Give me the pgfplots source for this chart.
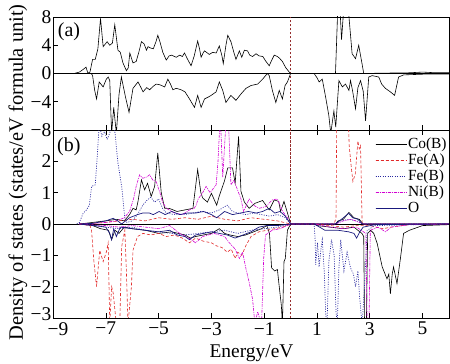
\documentclass[border=0pt]{standalone}
\usepackage{fontspec}
\setmainfont{Liberation Serif}
\usepackage{pgfplots}
\pgfplotsset{compat=1.18}
\definecolor{feA}{RGB}{225,40,40}
\definecolor{feB}{RGB}{40,40,160}
\definecolor{niB}{RGB}{210,0,210}
\definecolor{oxy}{RGB}{25,25,125}
\definecolor{fermi}{RGB}{150,45,45}
\pgfplotsset{
  common/.style={scale only axis, width=396bp, xmin=-9, xmax=6,
    anchor=south west,
    axis line style={line width=0.8pt},
    tick style={black, line width=0.6pt},
    major tick length=5bp,
    xtick={-9,-7,...,5},
    ytick pos=left,
    ticklabel style={font=\fontsize{19.5}{20}\selectfont},
    xticklabel style={inner sep=1pt, yshift=-3pt},
    yticklabel style={inner sep=1.5pt},
  },
  cob/.style={black, line width=0.6pt},
  fea/.style={feA, line width=0.6pt, dash pattern=on 3pt off 2pt},
  feb/.style={feB, line width=0.7pt, dash pattern=on 1pt off 1.4pt},
  nib/.style={niB, line width=0.6pt, dash pattern=on 3pt off 1pt on 1pt off 1pt},
  oxs/.style={oxy, line width=0.7pt},
}
\begin{document}
\begin{tikzpicture}
\path[use as bounding box] (0,0) rectangle (450bp,364bp);
% ---------------- top panel (a) ----------------
\begin{axis}[common, at={(53bp,234bp)}, height=113bp,
  ymin=-8, ymax=8, ytick={-8,-4,0,4,8}, yticklabels={−8,−4,0,4,8},
  xticklabels={}, xtick pos=bottom]
\addplot[black, line width=0.6pt, forget plot] coordinates {(-9,0) (6,0)};
\addplot[fermi, line width=0.7pt, dash pattern=on 2.5pt off 1.5pt, forget plot] coordinates {(0,-8) (0,8)};
% spin up
\addplot[black, line width=0.6pt] coordinates {
(-9,0) (-8.2,0) (-8.0,0.2) (-7.85,0.6) (-7.75,0.9) (-7.68,0.05) (-7.6,0.2) (-7.5,2.0) (-7.4,2.0) (-7.3,3.5) (-7.2,7.8) (-7.1,3.8) (-6.95,4.5) (-6.85,4.0) (-6.75,4.3) (-6.66,6.9) (-6.54,3.3) (-6.45,3.0) (-6.35,1.5) (-6.22,0.4) (-6.15,0.8) (-6.09,2.9) (-5.97,1.5) (-5.85,1.7) (-5.75,3.0) (-5.65,4.5) (-5.55,4.2) (-5.46,3.3) (-5.4,3.8) (-5.3,3.6) (-5.2,3.5) (-5.1,4.5) (-5.03,5.4) (-4.95,4.5) (-4.84,3.0) (-4.71,1.9) (-4.6,2.5) (-4.5,2.6) (-4.4,2.4) (-4.33,2.3) (-4.2,2.6) (-4.1,2.4) (-4.02,2.9) (-3.9,2.0) (-3.77,1.1) (-3.65,2.5) (-3.52,4.6) (-3.45,3.5) (-3.39,2.3) (-3.3,3.0) (-3.26,3.2) (-3.15,2.9) (-3.08,2.7) (-2.95,3.0) (-2.82,2.9) (-2.7,3.9) (-2.6,2.5) (-2.55,1.4) (-2.45,4.0) (-2.38,5.4) (-2.26,4.5) (-2.15,3.0) (-2.07,2.0) (-1.94,3.2) (-1.85,2.3) (-1.75,3.3) (-1.63,3.2) (-1.55,2.6) (-1.44,2.4) (-1.31,2.8) (-1.2,2.5) (-1.05,2.4) (-0.95,1.8) (-0.81,1.1) (-0.7,2.0) (-0.62,2.6) (-0.5,2.4) (-0.43,2.2) (-0.31,1.7) (-0.18,0.8) (-0.05,0.2) (0,0) (1.7,0) (1.78,8.5) (1.88,8.5) (1.93,4.8) (2.0,8.5) (2.2,8.5) (2.33,2.8) (2.46,2.1) (2.58,4.0) (2.71,1.3) (2.77,0) (3.5,0.05) (4.5,0.1) (5,0.2) (5.5,0.1) (6,0.1)};
% spin down
\addplot[black, line width=0.6pt] coordinates {
(-9,0) (-7.55,0) (-7.5,-0.3) (-7.42,-2.4) (-7.35,-3.6) (-7.25,-1.2) (-7.1,-1.9) (-6.98,-0.8) (-6.91,-0.5) (-6.85,-1.0) (-6.78,-8.5) (-6.7,-4.8) (-6.6,-8.5) (-6.5,-3.0) (-6.41,-0.5) (-6.25,-3.4) (-6.12,-5.5) (-5.97,-2.1) (-5.78,-1.2) (-5.68,-1.9) (-5.59,-2.6) (-5.45,-2.0) (-5.34,-2.3) (-5.2,-1.8) (-5.09,-1.5) (-4.95,-1.6) (-4.77,-1.9) (-4.65,-0.8) (-4.55,-1.5) (-4.46,-2.3) (-4.33,-2.1) (-4.15,-2.3) (-4.0,-2.6) (-3.83,-3.6) (-3.72,-4.3) (-3.64,-4.8) (-3.52,-3.1) (-3.39,-4.8) (-3.26,-3.6) (-3.1,-3.3) (-3.01,-3.1) (-2.82,-2.6) (-2.7,-1.2) (-2.57,-2.4) (-2.45,-4.1) (-2.26,-3.1) (-2.07,-3.8) (-1.88,-2.9) (-1.69,-2.1) (-1.5,-1.7) (-1.25,-1.5) (-1.06,-0.8) (-0.88,0) (-0.81,-0.3) (-0.69,-2.4) (-0.56,-4.1) (-0.43,-2.4) (-0.31,-3.6) (-0.21,-1.7) (-0.12,-1.2) (0,0) (0.89,0) (1.0,-0.6) (1.08,-1.2) (1.2,-0.8) (1.33,-3.4) (1.45,-6.0) (1.52,-8.5) (1.64,-5.3) (1.71,-7.6) (1.83,-1.0) (1.96,-1.9) (2.08,-1.5) (2.21,-2.4) (2.27,-1.0) (2.35,-2.5) (2.46,-5.0) (2.55,-2.0) (2.65,-1.0) (2.75,-2.5) (2.84,-6.7) (2.96,-0.5) (3.09,-0.3) (3.34,-0.5) (3.45,-1.5) (3.59,-2.1) (3.78,-2.6) (3.94,-3.1) (4.09,-0.5) (4.28,-0.2) (5,-0.1) (6,-0.1)};
\node[anchor=north west, inner sep=0pt, font=\fontsize{20}{20}\selectfont] at (rel axis cs:0.012,0.95) {(a)};
\end{axis}
% ---------------- bottom panel (b) ----------------
\begin{axis}[common, at={(53bp,46bp)}, height=188bp,
  ymin=-3, ymax=3, ytick={-3,...,2}, yticklabels={\raisebox{4pt}[13pt][0pt]{−3},−2,−1,0,1,2},
  xticklabels={\makebox[0pt][l]{\hspace*{-5.3pt}−9},−7,−5,−3,−1,1,3,5}, xtick pos=both,
  legend cell align=left,
  legend style={draw=none, fill=none, at={(0.997,0.965)}, anchor=north east,
    font=\fontsize{15.5}{15.5}\selectfont, row sep=1.9pt, inner sep=0pt,
    nodes={inner sep=1pt}},
  legend image code/.code={\draw[#1] (0bp,0bp) -- (27bp,0bp); \path (0bp,0bp) -- (31bp,0bp);}]
\addplot[black, line width=0.6pt, forget plot] coordinates {(-9,0) (6,0)};
\addplot[fermi, line width=0.7pt, dash pattern=on 2.5pt off 1.5pt, forget plot] coordinates {(0,-3) (0,3)};
% ---- spin up, with legend
\addplot[cob] coordinates {
(-8,0) (-7.5,0.05) (-7.0,0.1) (-6.6,0.15) (-6.3,0.1) (-6.1,0.3) (-5.97,0.5) (-5.85,0.45) (-5.78,0.72) (-5.65,1.41) (-5.53,1.09) (-5.42,1.3) (-5.28,0.88) (-5.15,1.2) (-5.03,2.27) (-4.9,1.0) (-4.77,0.5) (-4.6,0.5) (-4.3,0.4) (-4.0,0.45) (-3.7,0.5) (-3.52,1.74) (-3.4,1.0) (-3.33,0.83) (-3.15,0.7) (-3.0,0.98) (-2.8,0.6) (-2.7,0.9) (-2.51,1.36) (-2.38,1.79) (-2.2,1.79) (-2.1,1.3) (-1.97,2.8) (-1.88,1.04) (-1.75,0.7) (-1.57,0.5) (-1.35,0.66) (-1.06,0.75) (-0.81,0.45) (-0.62,0.77) (-0.45,0.72) (-0.38,0.4) (-0.25,0.72) (-0.1,0.3) (0,0) (1.7,0) (1.8,0.1) (2.0,0.15) (2.21,0.37) (2.4,0.2) (2.6,0.15) (2.75,0) (6,0)};
\addlegendentry{Co(B)}
\addplot[fea] coordinates {
(-8,0) (-7.5,0.02) (-7,0.05) (-6.5,0.1) (-6,0.15) (-5.5,0.1) (-5,0.2) (-4.5,0.15) (-4,0.2) (-3.5,0.15) (-3,0.25) (-2.5,0.15) (-2,0.1) (-1.5,0.2) (-1,0.15) (-0.5,0.1) (0,0) (1.65,0) (1.72,0.2) (1.75,3.5) (2.18,3.5) (2.22,2.5) (2.3,1.8) (2.36,1.36) (2.45,1.6) (2.55,2.65) (2.6,2.4) (2.65,2.5) (2.71,0) (6,0)};
\addlegendentry{Fe(A)}
\addplot[feb] coordinates {
(-8.1,0) (-8.0,0.05) (-7.86,0.34) (-7.73,0.45) (-7.62,0.6) (-7.54,1.2) (-7.4,1.25) (-7.32,2.2) (-7.25,3.2) (-7.15,2.8) (-7.05,2.95) (-6.95,2.7) (-6.85,2.9) (-6.75,3.3) (-6.65,2.9) (-6.54,1.95) (-6.4,1.2) (-6.28,0.2) (-6.2,0.05) (-6.0,0.1) (-5.8,0.3) (-5.6,0.6) (-5.45,0.75) (-5.3,0.85) (-5.15,0.7) (-5.0,0.8) (-4.85,0.5) (-4.7,0.35) (-4.4,0.3) (-4.0,0.3) (-3.7,0.35) (-3.4,0.4) (-3.0,0.35) (-2.7,0.45) (-2.4,0.6) (-2.2,0.4) (-2.0,0.35) (-1.7,0.3) (-1.4,0.35) (-1.1,0.3) (-0.8,0.25) (-0.5,0.3) (-0.2,0.2) (0,0) (1.7,0) (1.9,0.1) (2.2,0.15) (2.5,0.1) (2.75,0) (6,0)};
\addlegendentry{Fe(B)}
\addplot[nib] coordinates {
(-8,0) (-7.5,0.02) (-7,0.05) (-6.6,0.1) (-6.3,0.2) (-6.1,0.4) (-5.95,0.8) (-5.85,1.2) (-5.72,1.57) (-5.6,1.46) (-5.45,1.5) (-5.34,1.57) (-5.22,1.4) (-5.09,1.35) (-4.95,1.0) (-4.85,0.7) (-4.7,0.5) (-4.4,0.35) (-4.1,0.3) (-3.83,0.45) (-3.65,0.5) (-3.58,0.6) (-3.5,0.8) (-3.33,1.0) (-3.2,1.2) (-3.05,1.0) (-2.82,1.25) (-2.75,2.0) (-2.7,2.86) (-2.65,3.2) (-2.57,1.5) (-2.5,2.5) (-2.45,3.2) (-2.35,3.2) (-2.26,1.25) (-2.15,1.4) (-1.97,1.0) (-1.88,0.8) (-1.78,0.4) (-1.57,0.8) (-1.4,0.6) (-1.2,0.5) (-0.95,0.55) (-0.69,0.77) (-0.5,0.8) (-0.3,0.4) (-0.12,0.2) (0,0) (1.7,0) (2.0,0.1) (2.3,0.15) (2.6,0.05) (2.8,0) (6,0)};
\addlegendentry{Ni(B)}
\addplot[oxs] coordinates {
(-8,0) (-7.5,0.02) (-7,0.1) (-6.72,0.18) (-6.55,0.1) (-6.4,0) (-6.1,0.2) (-5.8,0.3) (-5.6,0.35) (-5.35,0.35) (-5.2,0.3) (-4.98,0.4) (-4.75,0.3) (-4.5,0.4) (-4.2,0.3) (-3.9,0.35) (-3.6,0.35) (-3.3,0.4) (-3.0,0.3) (-2.8,0.2) (-2.5,0.4) (-2.2,0.3) (-1.9,0.35) (-1.6,0.4) (-1.3,0.35) (-1.06,0.4) (-0.81,0.5) (-0.6,0.35) (-0.4,0.4) (-0.2,0.25) (0,0) (1.7,0) (1.85,0.1) (2.0,0.2) (2.2,0.34) (2.35,0.2) (2.55,0.15) (2.72,0) (6,0)};
\addlegendentry{O}
% ---- spin down
\addplot[cob, forget plot] coordinates {
(-8,0) (-7.5,-0.05) (-7.2,-0.15) (-6.9,-0.2) (-6.78,-0.5) (-6.65,-0.2) (-6.5,-0.3) (-6.3,-0.1) (-6.0,-0.15) (-5.5,-0.2) (-5.0,-0.3) (-4.5,-0.25) (-4.0,-0.35) (-3.8,-0.45) (-3.6,-0.4) (-3.3,-0.35) (-3.0,-0.3) (-2.7,-0.15) (-2.5,-0.3) (-2.3,-0.35) (-2.0,-0.4) (-1.7,-0.35) (-1.4,-0.25) (-1.1,-0.15) (-0.9,-0.05) (-0.8,-0.3) (-0.72,-1.4) (-0.6,-1.5) (-0.5,-1.45) (-0.43,-2.0) (-0.35,-2.6) (-0.31,-3.2) (-0.25,-1.2) (-0.2,-1.1) (-0.12,-0.2) (0,0) (0.9,0) (1.0,-0.05) (1.5,-0.1) (2.0,-0.15) (2.4,-0.1) (2.7,-0.3) (2.77,-0.4) (2.8,-3.2) (2.87,-3.2) (2.92,-0.3) (3.03,-0.2) (3.15,-0.3) (3.28,-0.62) (3.47,-1.37) (3.65,-1.75) (3.72,-1.6) (3.78,-2.23) (3.85,-1.6) (3.9,-1.37) (4.03,-1.9) (4.16,-1.1) (4.28,-0.3) (4.5,-0.2) (5,-0.05) (6,-0.02)};
\addplot[fea, forget plot] coordinates {
(-8,0) (-7.6,-0.05) (-7.54,-0.2) (-7.45,-1.2) (-7.35,-2.0) (-7.23,-0.84) (-7.1,-1.2) (-6.98,-0.9) (-6.91,-0.6) (-6.85,-3.2) (-6.78,-2.0) (-6.72,-2.2) (-6.6,-3.2) (-6.47,-3.2) (-6.4,-0.73) (-6.28,-0.2) (-6.22,-1.5) (-6.16,-3.2) (-6.03,-2.0) (-5.97,-0.84) (-5.8,-0.4) (-5.59,-0.3) (-5.3,-0.35) (-5.0,-0.3) (-4.7,-0.4) (-4.4,-0.35) (-4.1,-0.45) (-3.83,-0.6) (-3.6,-0.45) (-3.3,-0.55) (-3.0,-0.6) (-2.8,-0.7) (-2.6,-0.75) (-2.4,-0.9) (-2.25,-0.8) (-2.1,-1.1) (-2.0,-0.9) (-1.85,-1.0) (-1.7,-0.7) (-1.5,-0.4) (-1.2,-0.25) (-0.9,-0.2) (-0.6,-0.15) (-0.3,-0.1) (0,0) (0.9,0) (1.5,-0.05) (2,-0.1) (2.5,-0.05) (3,-0.05) (3.5,-0.15) (3.8,-0.1) (4.5,-0.02) (6,0)};
\addplot[feb, forget plot] coordinates {
(-8,0) (-7.5,-0.05) (-7,-0.1) (-6.5,-0.15) (-6,-0.1) (-5.5,-0.2) (-5,-0.25) (-4.5,-0.3) (-4,-0.35) (-3.5,-0.3) (-3,-0.25) (-2.5,-0.2) (-2,-0.3) (-1.5,-0.2) (-1,-0.15) (-0.5,-0.1) (0,0) (0.89,0) (0.93,-0.5) (0.95,-1.3) (1.02,-0.6) (1.08,-1.37) (1.15,-0.8) (1.2,-0.5) (1.28,-1.6) (1.33,-2.9) (1.38,-3.2) (1.45,-1.2) (1.55,-0.5) (1.65,-1.0) (1.72,-2.8) (1.77,-3.2) (1.83,-1.4) (1.9,-0.5) (2.02,-1.5) (2.14,-0.9) (2.27,-1.4) (2.38,-1.6) (2.46,-2.0) (2.55,-1.5) (2.62,-2.4) (2.71,-3.2) (2.8,-2.0) (2.9,-0.2) (3.2,-0.05) (6,0)};
\addplot[nib, forget plot] coordinates {
(-8,0) (-7,-0.05) (-6.5,-0.1) (-6,-0.05) (-5.5,-0.1) (-5,-0.15) (-4.58,-0.05) (-4.2,-0.3) (-3.83,-0.46) (-3.6,-0.6) (-3.33,-0.4) (-2.9,-0.3) (-2.5,-0.4) (-2.32,-0.6) (-2.1,-0.8) (-1.94,-1.1) (-1.82,-0.9) (-1.69,-1.43) (-1.57,-1.86) (-1.44,-2.4) (-1.35,-3.2) (-1.25,-2.8) (-1.1,-3.2) (-1.02,-1.1) (-0.95,-0.35) (-0.7,-0.2) (-0.4,-0.15) (0,0) (0.9,0) (1.5,-0.1) (2.0,-0.15) (2.5,-0.1) (2.85,-0.3) (2.9,-3.2) (2.97,-3.2) (3.02,-0.2) (3.3,-0.1) (3.6,-0.25) (3.8,-0.1) (4.5,-0.02) (6,0)};
\addplot[oxs, forget plot] coordinates {
(-8,0) (-7.4,-0.05) (-7.0,-0.1) (-6.85,-0.3) (-6.78,-0.5) (-6.7,-0.15) (-6.6,-0.4) (-6.45,-0.1) (-6.0,-0.15) (-5.5,-0.2) (-5.0,-0.25) (-4.58,-0.2) (-4.3,-0.35) (-4.0,-0.4) (-3.83,-0.5) (-3.6,-0.35) (-3.3,-0.3) (-3.0,-0.25) (-2.7,-0.3) (-2.4,-0.35) (-2.1,-0.45) (-1.8,-0.35) (-1.5,-0.25) (-1.2,-0.1) (-0.9,-0.05) (-0.5,-0.05) (0,0) (0.9,0) (1.3,-0.2) (1.8,-0.2) (2.2,-0.25) (2.4,-0.3) (2.5,-0.45) (2.62,-0.25) (2.75,-0.1) (3.2,-0.02) (6,0)};
\node[anchor=north west, inner sep=0pt, font=\fontsize{20}{20}\selectfont] at (rel axis cs:0.01,0.96) {(b)};
\end{axis}
\node[rotate=90, font=\fontsize{20.5}{20.5}\selectfont, inner sep=0pt] at (18bp,191.5bp) {Density of states (states/eV formula unit)};
\node[anchor=base, font=\fontsize{19.5}{20}\selectfont, inner sep=0pt] at (251.5bp,7bp) {Energy/eV};
\end{tikzpicture}
\end{document}
